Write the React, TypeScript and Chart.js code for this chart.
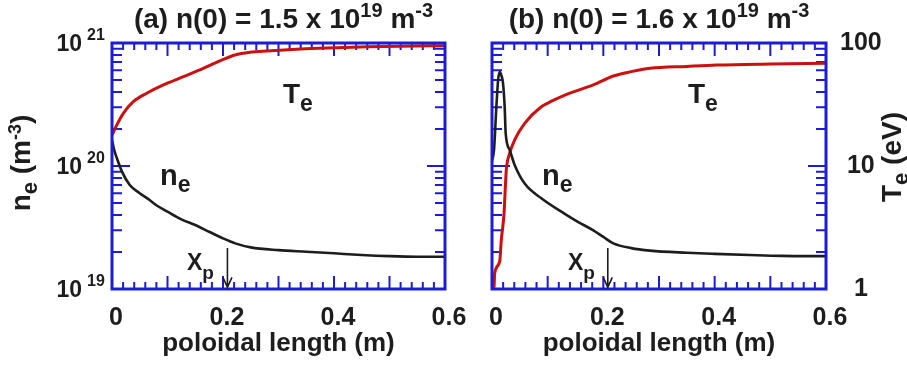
import { useEffect, useRef } from 'react';
import { Chart, registerables } from 'chart.js';

Chart.register(...registerables);

const FONT = '"Liberation Sans", Arial, Helvetica, sans-serif';
const BLUE = '#1c1cd6';
const RED = '#cc1010';
const INK = '#1d1d1d';

// ---------- data: panel (a) ----------
const lengthNeA = [0, 0.004, 0.009, 0.018, 0.032, 0.05, 0.065, 0.08, 0.1, 0.125, 0.15, 0.175, 0.2, 0.222, 0.25, 0.3, 0.35, 0.4, 0.45, 0.5, 0.55, 0.6];
const neA = [1.62e20, 1.35e20, 1.15e20, 9.0e19, 7.0e19, 6.0e19, 5.4e19, 4.8e19, 4.25e19, 3.68e19, 3.31e19, 2.92e19, 2.58e19, 2.35e19, 2.18e19, 2.07e19, 2.01e19, 1.95e19, 1.89e19, 1.85e19, 1.83e19, 1.83e19];
const lengthTeA = [0, 0.0085, 0.0204, 0.0384, 0.0625, 0.0925, 0.1285, 0.1645, 0.2005, 0.2216, 0.2486, 0.2787, 0.34, 0.4, 0.46, 0.52, 0.6];
const teA = [17.8, 21.5, 26.8, 33.3, 39.0, 45.6, 53.2, 62.2, 73.6, 79.9, 84.0, 86.1, 89.4, 91.5, 93.3, 94.3, 95.0];

// ---------- data: panel (b) ----------
const lengthNeB = [0, 0.0036, 0.0078, 0.011, 0.0138, 0.0165, 0.0198, 0.0228, 0.0246, 0.0318, 0.0407, 0.0587, 0.0886, 0.13, 0.155, 0.182, 0.2, 0.218, 0.25, 0.284, 0.35, 0.4, 0.463, 0.52, 0.6];
const neB = [1.1e20, 1.35e20, 3.0e20, 5.0e20, 5.8e20, 5.5e20, 4.7e20, 3.0e20, 1.84e20, 1.35e20, 1.02e20, 7.2e19, 5.46e19, 4.1e19, 3.5e19, 3.0e19, 2.65e19, 2.35e19, 2.15e19, 2.05e19, 1.97e19, 1.93e19, 1.89e19, 1.86e19, 1.85e19];
const lengthTeB = [0, 0.0036, 0.0048, 0.0138, 0.0167, 0.0216, 0.024, 0.0257, 0.0318, 0.0407, 0.0587, 0.0886, 0.108, 0.133, 0.182, 0.218, 0.25, 0.284, 0.35, 0.404, 0.5, 0.6];
const teB = [1.0, 1.04, 1.34, 1.67, 2.5, 4.1, 6.8, 9.3, 12.7, 16.3, 22.2, 30.3, 33.8, 38.1, 45.6, 53.9, 58.5, 62.2, 64.5, 66.2, 67.5, 68.4];

// ---------- ticks ----------
const xTickValues = [0, 0.2, 0.4, 0.6];
const xTickLabels = ['0', '0.2', '0.4', '0.6'];
const xMinorStep = 0.02;
const xMajorEvery = 5;
const neDecades = [19, 20, 21];
const teTickValues = [1, 10, 100];
const teTickLabels = ['1', '10', '100'];
const minorMultipliers = [2, 3, 4, 5, 6, 7, 8, 9];

type Seg = { t: string; size: number; dy?: number };

function drawSegs(ctx: CanvasRenderingContext2D, segs: Seg[], x: number, y: number, align: 'left' | 'center' | 'right') {
  ctx.textBaseline = 'alphabetic';
  ctx.textAlign = 'left';
  const widths = segs.map((s) => {
    ctx.font = `bold ${s.size}px ${FONT}`;
    return ctx.measureText(s.t).width;
  });
  const total = widths.reduce((a, b) => a + b, 0);
  let cx = align === 'left' ? x : align === 'center' ? x - total / 2 : x - total;
  segs.forEach((s, i) => {
    ctx.font = `bold ${s.size}px ${FONT}`;
    ctx.fillText(s.t, cx, y + (s.dy || 0));
    cx += widths[i];
  });
}

type Note = { x: number; y: number; segs: Seg[] };
type PanelCfg = {
  id: string;
  neX: number[];
  ne: number[];
  teX: number[];
  te: number[];
  title: Seg[];
  titleShift: number;
  leftWidth: number;
  rightWidth: number;
  showNeLabels: boolean;
  showTeLabels: boolean;
  notes: Note[];
  arrowX: number;
  arrowFrom: number;
  arrowTo: number;
};

const panelA: PanelCfg = {
  id: 'a',
  neX: lengthNeA,
  ne: neA,
  teX: lengthTeA,
  te: teA,
  title: [
    { t: '(a) n(0) = 1.5 x 10', size: 28 },
    { t: '19', size: 20, dy: -11 },
    { t: ' m', size: 28 },
    { t: '-3', size: 20, dy: -11 },
  ],
  titleShift: 5,
  leftWidth: 112,
  rightWidth: 35,
  showNeLabels: true,
  showTeLabels: false,
  notes: [
    { x: 0.308, y: 3.25e20, segs: [{ t: 'T', size: 28 }, { t: 'e', size: 23, dy: 8 }] },
    { x: 0.0865, y: 7.0e19, segs: [{ t: 'n', size: 29 }, { t: 'e', size: 23, dy: 7 }] },
    { x: 0.135, y: 1.43e19, segs: [{ t: 'X', size: 23 }, { t: 'p', size: 19, dy: 9 }] },
  ],
  arrowX: 0.208,
  arrowFrom: 2.15e19,
  arrowTo: 1.03e19,
};

const panelB: PanelCfg = {
  id: 'b',
  neX: lengthNeB,
  ne: neB,
  teX: lengthTeB,
  te: teB,
  title: [
    { t: '(b) n(0) = 1.6 x 10', size: 28 },
    { t: '19', size: 20, dy: -11 },
    { t: ' m', size: 28 },
    { t: '-3', size: 20, dy: -11 },
  ],
  titleShift: 0,
  leftWidth: 32,
  rightWidth: 81,
  showNeLabels: false,
  showTeLabels: true,
  notes: [
    { x: 0.352, y: 3.25e20, segs: [{ t: 'T', size: 28 }, { t: 'e', size: 23, dy: 8 }] },
    { x: 0.0898, y: 7.0e19, segs: [{ t: 'n', size: 29 }, { t: 'e', size: 23, dy: 7 }] },
    { x: 0.1365, y: 1.43e19, segs: [{ t: 'X', size: 23 }, { t: 'p', size: 19, dy: 9 }] },
  ],
  arrowX: 0.208,
  arrowFrom: 2.15e19,
  arrowTo: 1.03e19,
};

function panelPlugin(p: PanelCfg) {
  return {
    id: 'panel-' + p.id,
    beforeDatasetsDraw(chart: any) {
      const { ctx, chartArea: a, scales } = chart;
      ctx.save();
      ctx.strokeStyle = BLUE;
      ctx.lineWidth = 2;
      ctx.beginPath();
      const xs = scales.x;
      const nSteps = Math.round((xs.max - xs.min) / xMinorStep);
      for (let k = 0; k <= nSteps; k++) {
        const px = xs.getPixelForValue(xs.min + k * xMinorStep);
        const len = k % xMajorEvery === 0 ? 13 : 7;
        ctx.moveTo(px, a.bottom);
        ctx.lineTo(px, a.bottom - len);
        ctx.moveTo(px, a.top);
        ctx.lineTo(px, a.top + len);
      }
      const sides: [any, number, number][] = [
        [scales.yn, a.left, 1],
        [scales.yt, a.right, -1],
      ];
      for (const [s, edge, dir] of sides) {
        const lo = Math.round(Math.log10(s.min));
        const hi = Math.round(Math.log10(s.max));
        for (let d = lo; d <= hi; d++) {
          const py = s.getPixelForValue(Math.pow(10, d));
          ctx.moveTo(edge, py);
          ctx.lineTo(edge + dir * 18, py);
          if (d === hi) continue;
          for (const m of minorMultipliers) {
            const pm = s.getPixelForValue(m * Math.pow(10, d));
            ctx.moveTo(edge, pm);
            ctx.lineTo(edge + dir * 10, pm);
          }
        }
      }
      ctx.stroke();
      ctx.restore();
    },
    afterDatasetsDraw(chart: any) {
      const { ctx, chartArea: a, scales } = chart;
      ctx.save();
      // frame
      ctx.strokeStyle = BLUE;
      ctx.lineWidth = 3;
      ctx.strokeRect(a.left, a.top, a.right - a.left, a.bottom - a.top);

      ctx.fillStyle = INK;
      // title
      drawSegs(ctx, p.title, (a.left + a.right) / 2 + p.titleShift, 28, 'center');

      // left decade labels
      if (p.showNeLabels) {
        for (const d of neDecades) {
          const py = scales.yn.getPixelForValue(Math.pow(10, d));
          drawSegs(ctx, [{ t: '10', size: 23 }], a.left - 30, py + 8, 'right');
          drawSegs(ctx, [{ t: String(d), size: 16 }], a.left - 25, py - 3.5, 'left');
        }
        ctx.save();
        ctx.translate(30, 163);
        ctx.rotate(-Math.PI / 2);
        drawSegs(
          ctx,
          [
            { t: 'n', size: 28 },
            { t: 'e', size: 22, dy: 7 },
            { t: ' (m', size: 28 },
            { t: '-3', size: 18, dy: -9 },
            { t: ')', size: 28 },
          ],
          0,
          0,
          'center'
        );
        ctx.restore();
      }
      if (p.showTeLabels) {
        ctx.save();
        ctx.translate(a.right + 75, 157);
        ctx.rotate(-Math.PI / 2);
        drawSegs(
          ctx,
          [
            { t: 'T', size: 28 },
            { t: 'e', size: 22, dy: 7 },
            { t: ' (eV)', size: 28 },
          ],
          0,
          0,
          'center'
        );
        ctx.restore();
      }

      // annotations
      for (const n of p.notes) {
        const px = scales.x.getPixelForValue(n.x);
        const py = scales.yn.getPixelForValue(n.y);
        drawSegs(ctx, n.segs, px, py, 'left');
      }
      // X-point arrow
      const ax = scales.x.getPixelForValue(p.arrowX);
      const ay1 = scales.yn.getPixelForValue(p.arrowFrom);
      const ay2 = scales.yn.getPixelForValue(p.arrowTo);
      ctx.strokeStyle = INK;
      ctx.lineWidth = 1.6;
      ctx.beginPath();
      ctx.moveTo(ax, ay1);
      ctx.lineTo(ax, ay2);
      ctx.moveTo(ax - 4.5, ay2 - 10);
      ctx.lineTo(ax, ay2);
      ctx.lineTo(ax + 4.5, ay2 - 10);
      ctx.stroke();
      ctx.restore();
    },
  };
}

function makeConfig(p: PanelCfg): any {
  const tickFont = { family: FONT, size: 25, weight: 'bold' as const };
  return {
    type: 'line',
    data: {
      datasets: [
        {
          label: 'ne',
          data: p.neX.map((x, i) => ({ x, y: p.ne[i] })),
          yAxisID: 'yn',
          borderColor: INK,
          borderWidth: 2.6,
          pointRadius: 0,
          cubicInterpolationMode: 'monotone',
          fill: false,
        },
        {
          label: 'Te',
          data: p.teX.map((x, i) => ({ x, y: p.te[i] })),
          yAxisID: 'yt',
          borderColor: RED,
          borderWidth: 3,
          pointRadius: 0,
          cubicInterpolationMode: 'monotone',
          fill: false,
        },
      ],
    },
    options: {
      responsive: false,
      animation: false,
      devicePixelRatio: 1,
      events: [],
      layout: { padding: { top: 43, left: 0, right: 0, bottom: 0 } },
      plugins: { legend: { display: false }, tooltip: { enabled: false }, title: { display: false } },
      scales: {
        x: {
          type: 'linear',
          position: 'bottom',
          min: 0,
          max: 0.6,
          grid: { display: false },
          border: { display: false },
          afterBuildTicks: (s: any) => {
            s.ticks = xTickValues.map((v) => ({ value: v }));
          },
          ticks: {
            autoSkip: false,
            maxRotation: 0,
            font: tickFont,
            color: INK,
            padding: 6,
            labelOffset: 4,
            callback: (_v: any, i: number) => xTickLabels[i],
          },
          title: {
            display: true,
            text: 'poloidal length (m)',
            color: INK,
            font: { family: FONT, size: 26, weight: 'bold' },
            padding: { top: 0, bottom: 6 },
          },
          afterFit: (s: any) => {
            s.height = 76;
          },
        },
        yn: {
          type: 'logarithmic',
          position: 'left',
          min: 1e19,
          max: 1e21,
          grid: { display: false },
          border: { display: false },
          ticks: { display: false },
          afterFit: (s: any) => {
            s.width = p.leftWidth;
          },
        },
        yt: {
          type: 'logarithmic',
          position: 'right',
          min: 1,
          max: 100,
          grid: { display: false },
          border: { display: false },
          afterBuildTicks: (s: any) => {
            s.ticks = teTickValues.map((v) => ({ value: v }));
          },
          ticks: {
            display: p.showTeLabels,
            autoSkip: false,
            font: tickFont,
            color: INK,
            padding: 6,
            crossAlign: 'center',
            callback: (_v: any, i: number) => teTickLabels[i],
          },
          afterFit: (s: any) => {
            s.width = p.rightWidth;
          },
        },
      },
    },
    plugins: [panelPlugin(p)],
  };
}

function Panel({ cfg, left, width }: { cfg: PanelCfg; left: number; width: number }) {
  const ref = useRef<HTMLCanvasElement>(null);
  useEffect(() => {
    const chart = new Chart(ref.current as HTMLCanvasElement, makeConfig(cfg));
    return () => chart.destroy();
  }, [cfg]);
  return (
    <canvas
      ref={ref}
      width={width}
      height={365}
      style={{ position: 'absolute', left, top: 0, width, height: 365, display: 'block' }}
    />
  );
}

export default function App() {
  return (
    <div style={{ position: 'absolute', left: 0, top: 0, width: 907, height: 365, background: '#ffffff', overflow: 'hidden' }}>
      <Panel cfg={panelA} left={0} width={480} />
      <Panel cfg={panelB} left={460} width={447} />
    </div>
  );
}
